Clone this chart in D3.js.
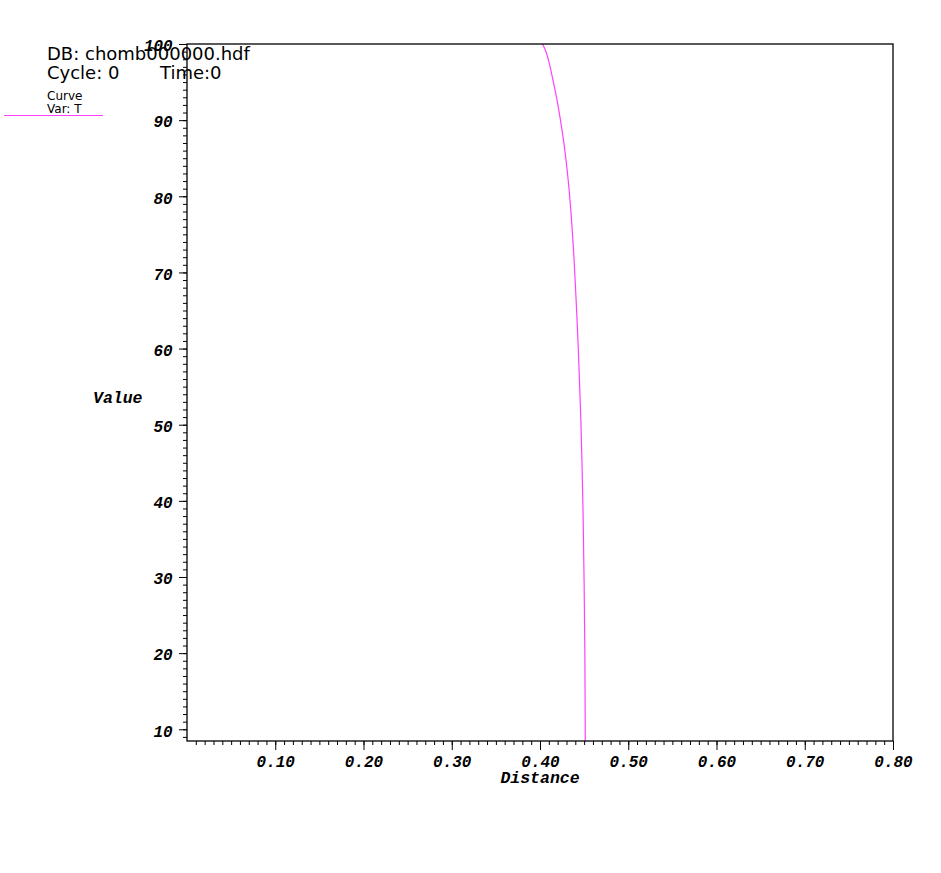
<!DOCTYPE html>
<html>
<head>
<meta charset="utf-8">
<script src="https://cdn.jsdelivr.net/npm/d3@7"></script>
<style>
  body { margin: 0; background: #fff; }
  svg { display: block; }
  .tick text { font-family: "Liberation Mono", "DejaVu Sans Mono", monospace; font-weight: bold; font-style: italic; }
</style>
</head>
<body>
<svg id="svg0" width="941" height="873"></svg>
<script>
// curve T(distance)
var distance = [0.4028, 0.4062, 0.4096, 0.4147, 0.4193, 0.4232, 0.4266, 0.4295, 0.4323, 0.4355, 0.4380, 0.4400, 0.4418, 0.4434, 0.4451, 0.4464, 0.4476, 0.4488, 0.4500, 0.4508, 0.4512, 0.4513];
var temp     = [100,    99.19,  97.88,  95.25,  92.62,  89.99,  87.37,  84.74,  81.72,  77.26,  72.93,  68.59,  64.26,  59.93,  54.55,  50.22,  44.96,  38.40,  29.21,  20.41,  11.35,  8.46];

var x_major = [0.10, 0.20, 0.30, 0.40, 0.50, 0.60, 0.70, 0.80];
var y_major = [10, 20, 30, 40, 50, 60, 70, 80, 90, 100];
var x_minor = d3.range(1, 80).map(d => d / 100);
var y_minor = d3.range(9, 100);

var header_lines = ['DB: chomb000000.hdf', 'Cycle: 0'];
var legend_lines = ['Curve', 'Var: T'];

var svg0 = d3.select('#svg0');
var p_left = 187, p_right = 893, p_top = 44, p_bottom = 741;

var x = d3.scaleLinear().domain([0, 0.8]).range([p_left, p_right]);
var y = d3.scaleLinear().domain([8.46, 100]).range([p_bottom, p_top]);

var line_color = '#ff40ff';

// curve
var pts = distance.map((d, i) => [d, temp[i]]);
svg0.append('path').datum(pts)
  .attr('d', d3.line().curve(d3.curveMonotoneY).x(d => x(d[0])).y(d => y(d[1])))
  .attr('fill', 'none').attr('stroke', line_color).attr('stroke-width', 1.2);

// minor ticks
svg0.append('g').attr('transform', 'translate(0,' + p_bottom + ')')
  .call(d3.axisBottom(x).tickValues(x_minor).tickSize(4).tickFormat(''))
  .call(g => g.select('.domain').remove());
svg0.append('g').attr('transform', 'translate(' + p_left + ',0)')
  .call(d3.axisLeft(y).tickValues(y_minor).tickSize(4).tickFormat(''))
  .call(g => g.select('.domain').remove());

// major ticks + labels
var xg = svg0.append('g').attr('transform', 'translate(0,' + p_bottom + ')')
  .call(d3.axisBottom(x).tickValues(x_major).tickSize(9).tickPadding(6).tickFormat(d3.format('.2f')))
  .call(g => g.select('.domain').remove());
xg.selectAll('text').attr('font-size', 16).attr('fill', '#000');

var yg = svg0.append('g').attr('transform', 'translate(' + p_left + ',0)')
  .call(d3.axisLeft(y).tickValues(y_major).tickSize(8).tickPadding(6.3).tickFormat(d3.format('d')))
  .call(g => g.select('.domain').remove());
yg.selectAll('text').attr('font-size', 16).attr('dy', '0.42em').attr('fill', '#000');

// frame
svg0.append('rect').attr('x', p_left).attr('y', p_top).attr('width', p_right - p_left).attr('height', p_bottom - p_top)
  .attr('fill', 'none').attr('stroke', '#000').attr('stroke-width', 1.3);

// header text (drawn over the 100 label, as in the original)
svg0.append('text').attr('x', 47).attr('y', 59.5).text(header_lines[0])
  .attr('font-family', 'DejaVu Sans').attr('font-size', 18).attr('fill', '#000');
svg0.append('text').attr('x', 47).attr('y', 78.5).text(header_lines[1])
  .attr('font-family', 'DejaVu Sans').attr('font-size', 18).attr('fill', '#000');
svg0.append('text').attr('x', 160).attr('y', 78.5).text('Time:0')
  .attr('font-family', 'DejaVu Sans').attr('font-size', 18).attr('fill', '#000');

// legend
svg0.selectAll('.leg').data(legend_lines).enter().append('text').attr('class', 'leg')
  .attr('x', 47).attr('y', (d, i) => 100 + i * 12.5).text(d => d)
  .attr('font-family', 'DejaVu Sans').attr('font-size', 12).attr('fill', '#000');
svg0.append('line').attr('x1', 4).attr('x2', 103).attr('y1', 115.5).attr('y2', 115.5)
  .attr('stroke', line_color).attr('stroke-width', 1);

// axis titles
svg0.append('text').attr('x', (p_left + p_right) / 2).attr('y', 783).attr('text-anchor', 'middle').text('Distance')
  .attr('font-family', 'Liberation Mono').attr('font-weight', 'bold').attr('font-style', 'italic').attr('font-size', 16.5);
svg0.append('text').attr('x', 93).attr('y', 403).text('Value')
  .attr('font-family', 'Liberation Mono').attr('font-weight', 'bold').attr('font-style', 'italic').attr('font-size', 16.5);
</script>
</body>
</html>
